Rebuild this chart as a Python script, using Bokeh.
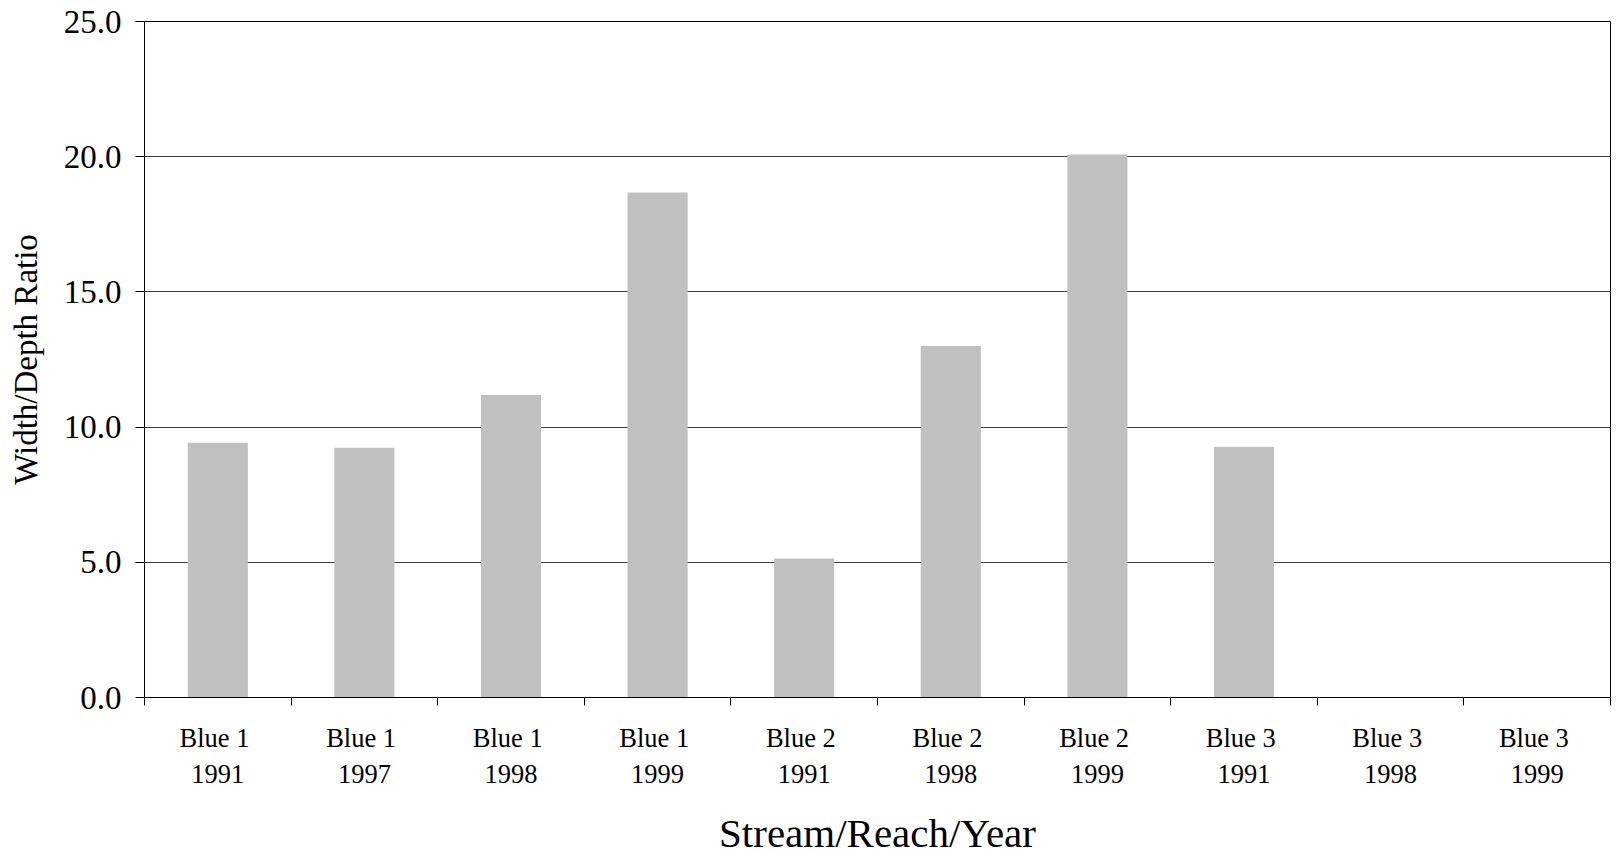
from bokeh.plotting import figure
from bokeh.models import (Range1d, LinearAxis, FixedTicker,
                          NumeralTickFormatter, ColumnDataSource)
from bokeh.embed import file_html
from bokeh.resources import INLINE
import math

# ---- data ----
streams = ["Blue  1", "Blue  1", "Blue  1", "Blue  1", "Blue  2",
           "Blue  2", "Blue  2", "Blue  3", "Blue  3", "Blue  3"]
years = ["1991", "1997", "1998", "1999", "1991",
         "1998", "1999", "1991", "1998", "1999"]
ratios = [9.42, 9.24, 11.19, 18.68, 5.14, 13.0, 20.08, 9.27, float("nan"), float("nan")]
y_ticks = [0, 5, 10, 15, 20, 25]

categories = [f"{s}\n{y}" for s, y in zip(streams, years)]
n = len(categories)
centers = [i + 0.5 for i in range(n)]
edges = list(range(n + 1))

FONT = "Liberation Serif"

p = figure(width=1612, height=858, x_range=Range1d(0, n),
           y_range=Range1d(0, 25), output_backend="svg", toolbar_location=None,
           min_border_left=144, min_border_right=2, min_border_top=21,
           min_border_bottom=160, x_axis_location=None)
p.background_fill_color = "white"
p.border_fill_color = "white"
p.outline_line_color = "black"
p.outline_line_width = 1

src = ColumnDataSource(dict(
    x=[c for c, v in zip(centers, ratios) if not math.isnan(v)],
    top=[v for v in ratios if not math.isnan(v)],
))
p.vbar(x="x", top="top", width=0.41, source=src, fill_color="#c0c0c0", line_color=None)

# y axis
ya = p.yaxis[0]
ya.ticker = FixedTicker(ticks=y_ticks)
ya.formatter = NumeralTickFormatter(format="0.0")
ya.major_label_text_font = FONT
ya.major_label_text_font_size = "33px"
ya.major_label_text_color = "black"
ya.major_tick_out = 9
ya.major_tick_in = 0
ya.minor_tick_out = 0
ya.minor_tick_in = 0
ya.major_tick_line_color = "black"
ya.axis_line_color = "black"
ya.major_label_standoff = 14
ya.axis_label = "Width/Depth Ratio"
ya.axis_label_text_font = FONT
ya.axis_label_text_font_size = "33px"
ya.axis_label_text_font_style = "normal"
ya.axis_label_text_color = "black"
ya.axis_label_standoff = 17

p.ygrid.ticker = FixedTicker(ticks=y_ticks)
p.ygrid.grid_line_color = "#404040"
p.ygrid.grid_line_width = 1
p.xgrid.visible = False

# x axis: labels at category centres, tick marks at category edges
xa = LinearAxis(ticker=FixedTicker(ticks=centers, minor_ticks=edges),
                major_label_overrides={c: lab for c, lab in zip(centers, categories)},
                axis_line_color="black",
                major_tick_line_color=None, major_tick_out=0, major_tick_in=0,
                minor_tick_line_color="black", minor_tick_out=8, minor_tick_in=0,
                major_label_text_font=FONT,
                major_label_text_font_size="26.5px",
                major_label_text_color="black",
                major_label_text_line_height=1.2,
                major_label_standoff=17,
                axis_label="Stream/Reach/Year",
                axis_label_text_font=FONT,
                axis_label_text_font_size="41px",
                axis_label_text_font_style="normal",
                axis_label_text_color="black",
                axis_label_standoff=18)
p.add_layout(xa, "below")

open("out.html", "w").write(file_html(p, INLINE))
